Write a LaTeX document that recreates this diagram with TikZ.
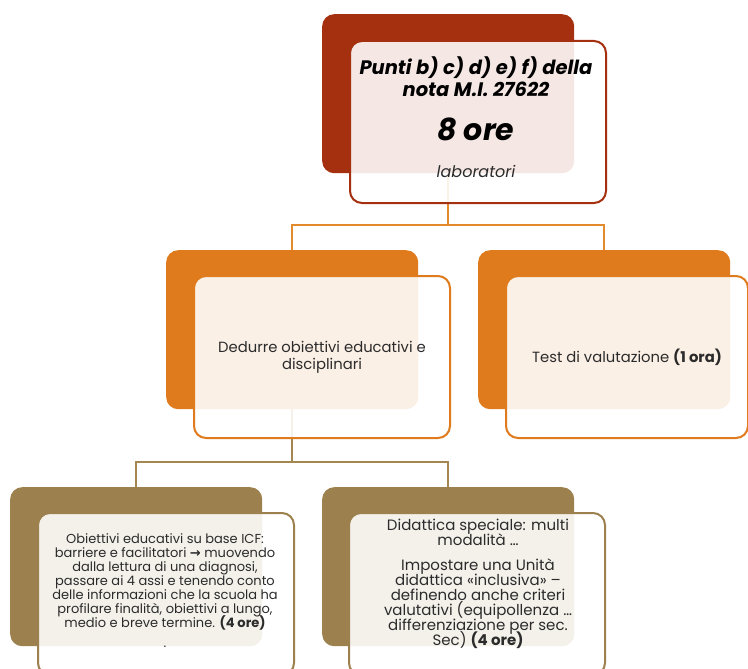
\documentclass[tikz,border=0pt]{standalone}
\usepackage{fontspec}
\setmainfont{Poppins}
\newfontfamily\dejavuArrow{DejaVu Sans}
\usetikzlibrary{positioning}
\definecolor{rust}{HTML}{A5300F}
\definecolor{amber}{HTML}{DF7B1C}
\definecolor{khaki}{HTML}{9C804E}
\definecolor{amberLine}{HTML}{E38B2C}
\definecolor{khakiLine}{HTML}{A38650}
\definecolor{greyText}{HTML}{2B2B2B}
\newcommand{\backWidth}{252pt}
\newcommand{\backHeight}{159pt}
\newcommand{\frontWidth}{256pt}
\newcommand{\frontHeight}{162pt}
\newcommand{\forkDrop}{52}
\newcommand{\tightLines}{\lineskiplimit=-20pt\relax}
\tikzset{
  backbox/.style={rounded corners=12pt, fill=#1, minimum width=\backWidth,
    minimum height=\backHeight, anchor=north west, inner sep=0pt},
  frontbox/.style={rounded corners=12pt, draw=#1, line width=2pt, fill=white,
    fill opacity=0.89, text opacity=1, minimum width=\frontWidth,
    minimum height=\frontHeight, anchor=north west, align=center,
    text=greyText, inner sep=4pt},
  boxtext/.style={anchor=base, align=center, text=greyText},
  link/.style={line width=2pt, draw=#1},
}

\begin{document}
\begin{tikzpicture}[x=1pt, y=-1pt]
\useasboundingbox (0,0) rectangle (748,669);
\node[backbox=rust] (topback) at (322,14) {};
\node[backbox=amber] (midleftback) at (166,250) {};
\node[backbox=amber] (midrightback) at (478,250) {};
\node[backbox=khaki] (lowleftback) at (10,487) {};
\node[backbox=khaki] (lowrightback) at (322,487) {};

\draw[link=amberLine] (topback.south) -- ++(0,\forkDrop) -| (midleftback.north);
\draw[link=amberLine] (topback.south) -- ++(0,\forkDrop) -| (midrightback.north);
\draw[link=khakiLine] (midleftback.south) -- ++(0,53) -| (lowleftback.north);
\draw[link=khakiLine] (midleftback.south) -- ++(0,53) -| (lowrightback.north);

\node[frontbox=rust, text=black] (topfront) at (349,40) {};
\node[anchor=base, font=\bfseries\itshape\fontsize{19.5}{22}\selectfont, align=center]
  (toptitle) at (476,97) {Punti b) c) d) e) f) della\\nota M.I. 27622};
\node[anchor=base, font=\bfseries\itshape\fontsize{30}{34}\selectfont]
  (tophours) at (476,140) {8 ore};
\node[anchor=base, font=\itshape\fontsize{16}{18}\selectfont, text=greyText]
  (toplabs) at (476,178) {laboratori};

\node[frontbox=amber, font=\fontsize{14.8}{17}\selectfont] (midleftfront) at (193,275)
  {Dedurre obiettivi educativi e\\disciplinari};
\node[frontbox=amber, minimum width=242pt, font=\fontsize{14.8}{17}\selectfont]
  (midrightfront) at (505,275) {Test di valutazione \textbf{(1 ora)}};

\node[frontbox=khaki] (lowleftfront) at (37,512) {};
\node[boxtext, font=\fontsize{13}{14}\selectfont\tightLines] (lowlefttext) at (165,647)
  {Obiettivi educativi su base ICF:\\
   barriere e facilitatori {\dejavuArrow\bfseries →} muovendo\\
   dalla lettura di una diagnosi,\\
   passare ai 4 assi e tenendo conto\\
   delle informazioni che la scuola ha\\
   profilare finalità, obiettivi a lungo,\\
   medio e breve termine. \textbf{(4 ore)}\\[6pt]
   .};
\node[frontbox=khaki] (lowrightfront) at (348,512) {};
\node[boxtext, font=\fontsize{15}{15}\selectfont\tightLines] (lowrighttext) at (478,645)
  {Didattica speciale: multi\\
   modalità …\\[10pt]
   Impostare una Unità\\
   didattica «inclusiva» –\\
   definendo anche criteri\\
   valutativi (equipollenza …\\
   differenziazione per sec.\\
   Sec) \textbf{(4 ore)}};
\end{tikzpicture}
\end{document}
